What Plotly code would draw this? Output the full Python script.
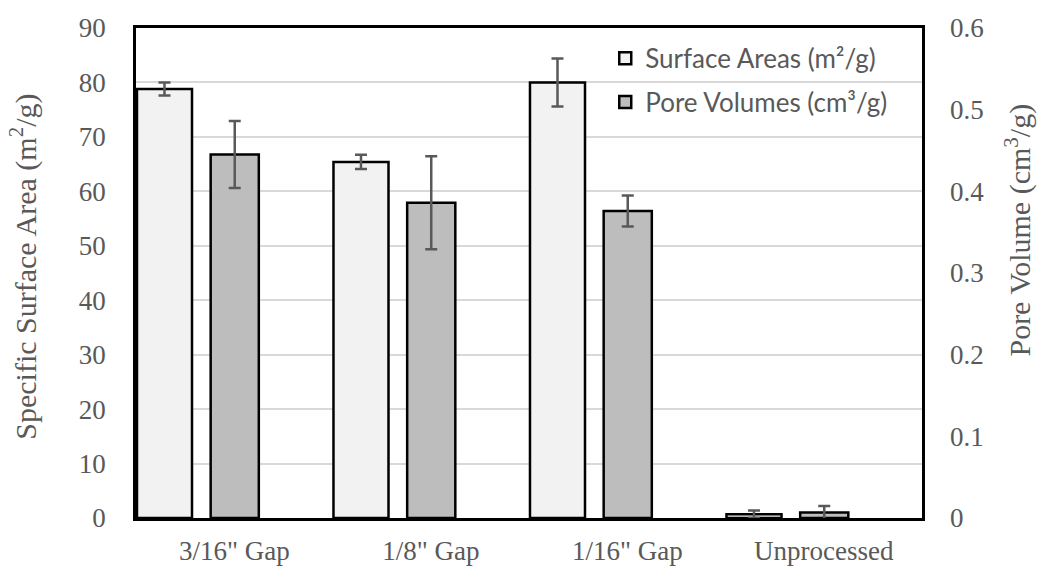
import plotly.graph_objects as go

# Sample groups along the x axis
categories = ['3/16" Gap', '1/8" Gap', '1/16" Gap', 'Unprocessed']

# Specific surface area (m2/g), left axis
surface_area = [78.8, 65.4, 80.0, 0.7]
surface_area_err = [1.2, 1.3, 4.4, 0.7]

# Pore volume (cm3/g), right axis
pore_volume = [0.445, 0.386, 0.376, 0.0066]
pore_volume_err = [0.041, 0.057, 0.019, 0.008]

TICK_FONT = dict(family="Liberation Serif, Times New Roman, serif", size=27, color="#595959")
TITLE_FONT = dict(family="Liberation Serif, Times New Roman, serif", size=30, color="#595959")
ERR_COLOR = "#595959"

fig = go.Figure()

fig.add_trace(go.Bar(
    x=categories, y=surface_area, name="Surface Areas (m²/g)",
    offset=-0.495, width=0.28,
    marker=dict(color="#f2f2f2", line=dict(color="black", width=2.5)),
    error_y=dict(type="data", array=surface_area_err, color=ERR_COLOR, thickness=2.5, width=6),
    legendgroup="sa", yaxis="y",
))

fig.add_trace(go.Bar(
    x=categories, y=pore_volume, name="Pore Volumes (cm³/g)",
    offset=-0.12, width=0.245,
    marker=dict(color="#bdbdbd", line=dict(color="black", width=2.5)),
    error_y=dict(type="data", array=pore_volume_err, color=ERR_COLOR, thickness=2.5, width=6),
    legendgroup="pv", yaxis="y2",
))

fig.update_layout(
    width=1042, height=567,
    margin=dict(l=136, r=120, t=28, b=49, autoexpand=False),
    paper_bgcolor="white", plot_bgcolor="white",
    barmode="overlay",
    showlegend=True,
    legend=dict(
        x=0.597, y=0.986, xanchor="left", yanchor="top",
        bgcolor="rgba(255,255,255,0)",
        font=dict(family="Lato, Calibri, sans-serif", size=26, color="#595959"),
        tracegroupgap=7,
    ),
    xaxis=dict(
        type="category", range=[-0.5, 3.5],
        showline=True, mirror=True, linecolor="black", linewidth=2.5,
        showgrid=False, ticks="", tickfont=TICK_FONT, ticklabelstandoff=7,
    ),
    yaxis=dict(
        range=[0, 90], dtick=10, tick0=0,
        showline=True, mirror=True, linecolor="black", linewidth=2.5,
        showgrid=True, gridcolor="#d9d9d9", gridwidth=1.5,
        zeroline=False, ticks="", tickfont=TICK_FONT, ticklabelstandoff=22,
    ),
    yaxis2=dict(
        range=[0, 0.6], dtick=0.1, tick0=0,
        overlaying="y", side="right",
        showline=False, showgrid=False, zeroline=False,
        ticks="", tickfont=TICK_FONT, ticklabelstandoff=27,
    ),
    annotations=[
        dict(text="Specific Surface Area (m<sup>2</sup>/g)", textangle=-90,
             xref="paper", yref="paper", x=-0.143, y=0.512,
             xanchor="center", yanchor="middle", showarrow=False, font=TITLE_FONT),
        dict(text="Pore Volume (cm<sup>3</sup>/g)", textangle=-90,
             xref="paper", yref="paper", x=1.123, y=0.588,
             xanchor="center", yanchor="middle", showarrow=False, font=TITLE_FONT),
    ],
)

fig.write_html("out.html")
